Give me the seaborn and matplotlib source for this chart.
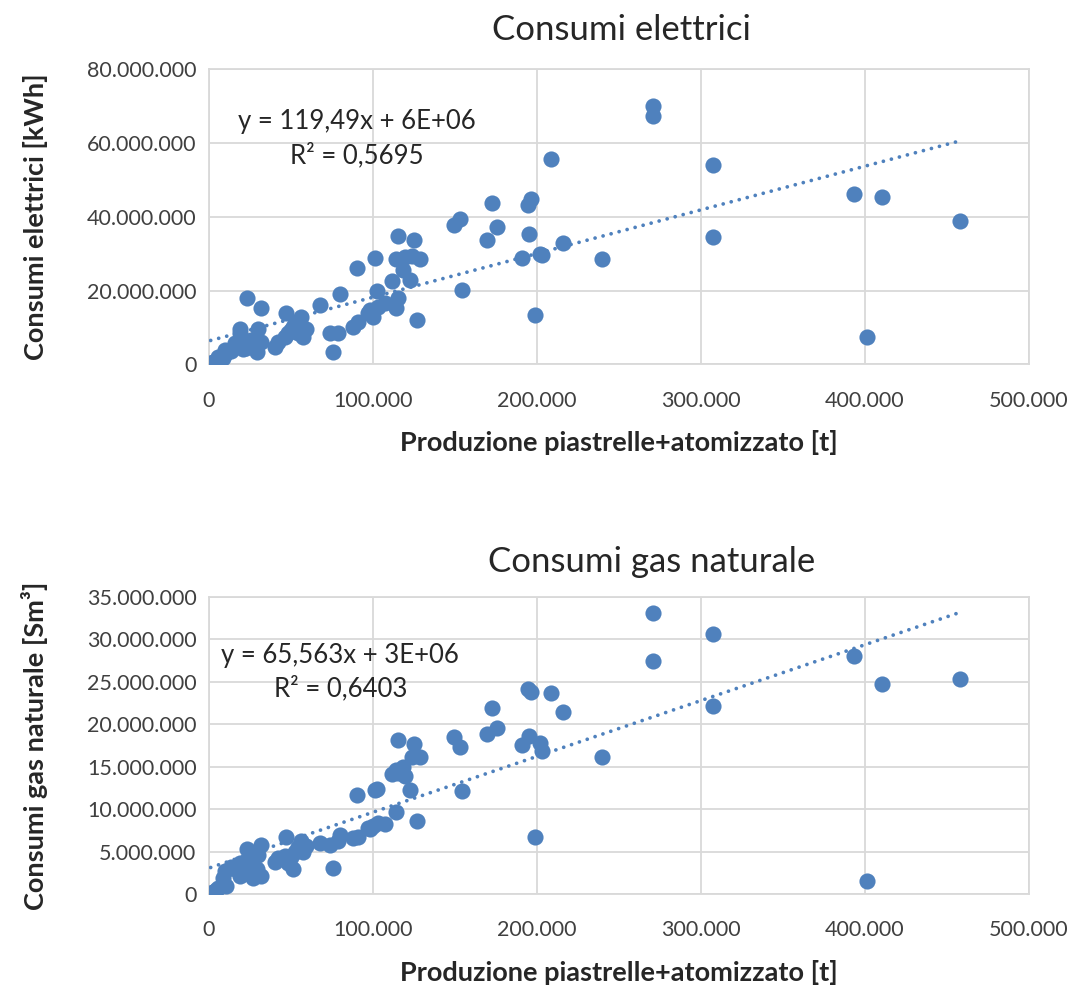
import matplotlib
matplotlib.use("Agg")
import matplotlib.pyplot as plt
import numpy as np
import seaborn as sns
from matplotlib.ticker import FuncFormatter, MultipleLocator

# production, thousands of tonnes
produzione_kt = [
    1.0, 2.5, 4.0, 5.6, 8.6, 9.7, 10.6, 13.7, 15.7, 18.8,
    18.8, 19.8, 21.0, 22.8, 23.4, 25.9, 26.9, 29.0, 30.0, 32.0,
    32.0, 40.2, 42.2, 46.3, 47.2, 48.3, 50.3, 51.3, 52.4, 54.4,
    56.4, 57.4, 59.4, 67.7, 73.8, 75.4, 78.9, 79.9, 88.0, 90.1,
    91.1, 97.2, 98.2, 100.2, 101.3, 102.3, 103.3, 107.4, 111.8, 113.9,
    114.1, 115.1, 115.1, 118.6, 119.6, 122.7, 123.6, 125.3, 126.9, 128.8,
    149.3, 153.2, 154.2, 169.7, 172.8, 175.6, 190.6, 194.3, 195.4, 196.5,
    199.0, 201.6, 203.3, 208.6, 216.0, 239.5, 270.9, 270.9, 307.3, 307.5,
    393.3, 401.4, 410.6, 458.2,
]
# electricity, millions of kWh
elettrici_mkwh = [
    0.3, 0.7, 1.0, 2.1, 1.6, 3.9, 3.0, 3.5, 5.7, 9.7,
    8.4, 7.0, 4.2, 4.5, 18.1, 6.6, 4.8, 3.4, 9.5, 15.2,
    6.1, 4.8, 6.1, 7.5, 13.8, 8.4, 9.3, 10.2, 11.1, 8.4,
    12.9, 7.5, 9.7, 16.0, 8.4, 3.4, 8.4, 19.0, 10.2, 26.0,
    11.5, 13.8, 14.6, 12.7, 28.9, 19.8, 15.6, 16.7, 22.6, 15.2,
    28.5, 34.7, 17.9, 25.5, 29.1, 22.8, 29.4, 33.7, 12.0, 28.5,
    37.9, 39.4, 20.2, 33.6, 43.8, 37.2, 28.7, 43.1, 35.3, 44.7,
    13.3, 30.0, 29.7, 55.8, 33.0, 28.6, 70.0, 67.3, 54.1, 34.5,
    46.1, 7.3, 45.3, 38.8,
]
# natural gas, millions of Sm3
gas_msm3 = [
    0.1, 0.2, 0.5, 0.7, 1.9, 2.7, 0.9, 3.2, 3.0, 3.6,
    2.1, 3.1, 2.4, 3.7, 5.3, 4.2, 1.9, 2.9, 4.6, 5.8,
    2.1, 3.8, 4.2, 4.5, 6.7, 3.7, 4.3, 2.9, 4.9, 5.5,
    6.2, 5.0, 5.6, 6.0, 5.8, 3.1, 6.3, 7.0, 6.6, 11.7,
    6.7, 7.8, 7.6, 8.0, 12.2, 12.4, 8.4, 8.2, 14.1, 9.7,
    14.6, 18.2, 14.3, 15.0, 13.9, 12.2, 16.2, 17.7, 8.6, 16.2,
    18.5, 17.3, 12.1, 18.9, 21.9, 19.6, 17.5, 24.1, 18.6, 23.8,
    6.7, 17.8, 16.9, 23.7, 21.4, 16.1, 33.1, 27.4, 30.6, 22.2,
    28.1, 1.5, 24.7, 25.3,
]

titoli = ["Consumi elettrici", "Consumi gas naturale"]
ylabels = ["Consumi elettrici [kWh]", "Consumi gas naturale [Sm³]"]
xlabel = "Produzione piastrelle+atomizzato [t]"
equazioni = ["y = 119,49x + 6E+06\nR² = 0,5695", "y = 65,563x + 3E+06\nR² = 0,6403"]

x = np.array(produzione_kt) * 1e3
serie = [np.array(elettrici_mkwh) * 1e6, np.array(gas_msm3) * 1e6]

sns.set_style('white')
plt.rcParams['font.family'] = ['Lato', 'DejaVu Sans']

blu = '#4F81BD'
griglia = '#D9D9D9'
fmt = FuncFormatter(lambda v, p: f"{int(round(v)):,}".replace(",", "."))

fig = plt.figure(figsize=(10.83, 9.9), dpi=100)
ax_top = fig.add_axes([0.193, 0.632, 0.757, 0.298])
ax_bot = fig.add_axes([0.193, 0.097, 0.757, 0.300])

settings = [
    (ax_top, 80e6, 20e6, (0.18, 0.764), (0.574, 0.970)),
    (ax_bot, 35e6, 5e6, (0.16, 0.747), (0.602, 0.432)),
]

for i, (ax, ymax, ystep, pos_eq, pos_tit) in enumerate(settings):
    sns.regplot(x=x, y=serie[i], ax=ax, ci=None, truncate=True,
                scatter_kws=dict(s=135, color=blu, alpha=1, linewidths=0, zorder=3),
                line_kws=dict(color=blu, lw=2.7, linestyle=(0, (0.01, 2.2)),
                              dash_capstyle='round', zorder=4))
    ax.set_xlim(0, 500000)
    ax.set_ylim(0, ymax)
    ax.xaxis.set_major_locator(MultipleLocator(100000))
    ax.yaxis.set_major_locator(MultipleLocator(ystep))
    ax.xaxis.set_major_formatter(fmt)
    ax.yaxis.set_major_formatter(fmt)
    ax.grid(True, color=griglia, lw=1.3)
    ax.set_axisbelow(True)
    for s in ax.spines.values():
        s.set_color(griglia)
        s.set_linewidth(1.3)
    ax.tick_params(axis='both', length=0, labelsize=15.5, colors='#404040')
    ax.tick_params(axis='x', pad=19)
    ax.tick_params(axis='y', pad=9)
    ax.set_ylabel(ylabels[i], fontsize=19.5, fontweight='bold', labelpad=28)
    ax.set_xlabel(xlabel, fontsize=19.5, fontweight='bold', labelpad=14)
    ax.text(pos_eq[0], pos_eq[1], equazioni[i], transform=ax.transAxes,
            ha='center', va='center', fontsize=18.5, linespacing=1.4)
    fig.text(pos_tit[0], pos_tit[1], titoli[i], ha='center', va='center', fontsize=25)

fig.savefig('out.png', dpi=100)
